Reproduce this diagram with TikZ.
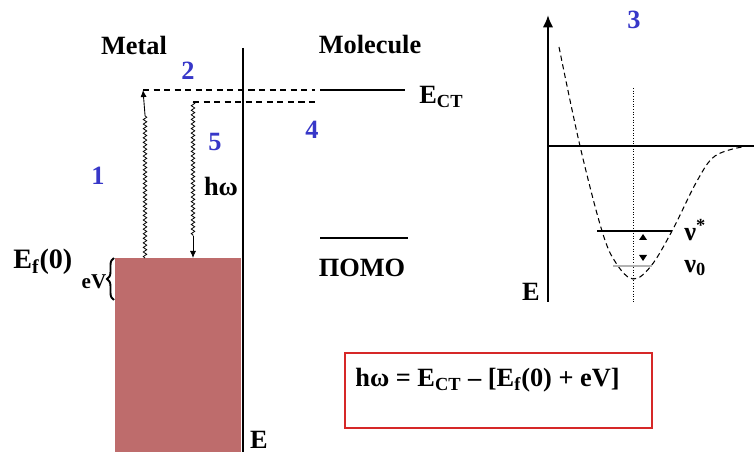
\documentclass[tikz,border=0pt]{standalone}
\usepackage{fontspec}
\setmainfont{Liberation Serif}
\usetikzlibrary{arrows.meta,positioning,decorations.pathmorphing,decorations.pathreplacing}
\definecolor{numblue}{RGB}{55,55,200}
\definecolor{metalred}{RGB}{190,108,108}
\definecolor{boxred}{RGB}{214,40,40}

\begin{document}
\begin{tikzpicture}[x=0.02cm,y=-0.02cm,font=\bfseries\fontsize{15}{17}\selectfont,
  lbl/.style={inner sep=0pt},
  num/.style={inner sep=0pt,text=numblue},
  lvl/.style={line width=1.1pt},
  dashlvl/.style={line width=0.8pt,dash pattern=on 3.5pt off 2.5pt},
  wavy/.style={decorate,decoration={snake,amplitude=1pt,segment length=2.6pt},line width=0.45pt}]
  \useasboundingbox (0,0) rectangle (754,452);

  % metal band and interface
  \fill[metalred] (115,258) rectangle (241,452);
  \coordinate (ifT) at (243,48);
  \coordinate (ifB) at (243,452);
  \draw[line width=1.6pt] (ifT) -- (ifB);
  \node[lbl] (metal) at (134,45) {Metal};
  \node[lbl] (mol) at (370,45) {Molecule};
  \node[lbl] (eint) at (259,440) {E};

  % levels
  \coordinate (ct1) at (143,90);
  \coordinate (ct2) at (315,90);
  \coordinate (ct3) at (320,90);
  \coordinate (ct4) at (405,90);
  \coordinate (cs1) at (193,102);
  \coordinate (cs2) at (315,102);
  \draw[dashlvl] (ct1) -- (ct2);
  \draw[lvl] (ct3) -- (ct4);
  \draw[dashlvl] (cs1) -- (cs2);
  \node[lbl,anchor=west] (ect) at (419,97) {E\textsubscript{CT}};
  \coordinate (h1) at (320,238);
  \coordinate (h2) at (408,238);
  \draw[lvl] (h1) -- (h2);
  \node[lbl] (homo) at (362,268) {ПОМО};

  % excitation and emission
  \coordinate (w1b) at (145,258);
  \coordinate (w1m) at (145,115);
  \draw[wavy] (w1b) -- (w1m);
  \draw[-{Latex[length=4pt,width=3.5pt]},line width=0.5pt] (w1m) -- (ct1);
  \coordinate (w5m) at (193,236);
  \coordinate (w5b) at (193,258);
  \draw[wavy] (cs1) -- (w5m);
  \draw[-{Latex[length=4pt,width=3.5pt]},line width=0.5pt] (w5m) -- (w5b);
  \node[lbl] (hw) at (221,186) {hω};

  % Fermi level
  \node[lbl,anchor=west,font=\bfseries\fontsize{16}{18}\selectfont] (ef) at (13,262) {E\textsubscript{f}(0)};
  \node[lbl,font=\bfseries\fontsize{12}{14}\selectfont] (ev) at (94,282) {eV};
  \coordinate (br1) at (114,300);
  \coordinate (br2) at (114,258);
  \draw[decorate,decoration={brace,amplitude=4pt},line width=1.1pt] (br1) -- (br2);

  % step numbers
  \node[num] (n1) at (98,176) {1};
  \node[num] (n2) at (188,71) {2};
  \node[num] (n3) at (634,20) {3};
  \node[num] (n4) at (312,130) {4};
  \node[num] (n5) at (215,142) {5};

  % potential curve of the molecule
  \coordinate (ax0) at (548,302);
  \coordinate (ax1) at (548,15);
  \draw[-{Latex[length=7pt,width=6pt]},line width=1.4pt] (ax0) -- (ax1);
  \node[lbl] (eax) at (531,292) {E};
  \coordinate (zr) at (754,146);
  \draw[line width=0.9pt] (548,146) -- (zr);
  \coordinate (eqT) at (633,88);
  \coordinate (eqB) at (633,302);
  \draw[densely dotted,line width=0.5pt] (eqT) -- (eqB);
  \draw[densely dashed,line width=0.6pt] plot[smooth,tension=0.6] coordinates
    {(559,47) (580,146) (602,231) (616,263) (633,279) (651,266) (672,231) (697,181) (715,156) (742,147)};
  \coordinate (vs1) at (597,231);
  \coordinate (vs2) at (672,231);
  \draw[line width=1pt] (vs1) -- (vs2);
  \coordinate (vz1) at (613,266);
  \coordinate (vz2) at (652,266);
  \draw[gray!60,line width=0.8pt] (vz1) -- (vz2);
  \fill (639,240) -- (647,240) -- (643,234) -- cycle;
  \fill (639,255) -- (647,255) -- (643,261) -- cycle;
  \node[lbl,anchor=west,font=\bfseries\fontsize{15}{17}\selectfont] (nus) at (684,230) {ν\textsuperscript{*}};
  \node[lbl,anchor=west,font=\bfseries\fontsize{15}{17}\selectfont] (nu0) at (684,268) {ν\textsubscript{0}};

  % resonance condition
  \draw[boxred,line width=1pt] (345,353) rectangle (652,428);
  \node[lbl,anchor=west] (eq) at (355,380) {hω = E\textsubscript{CT} – [E\textsubscript{f}(0) + eV]};
\end{tikzpicture}
\end{document}
